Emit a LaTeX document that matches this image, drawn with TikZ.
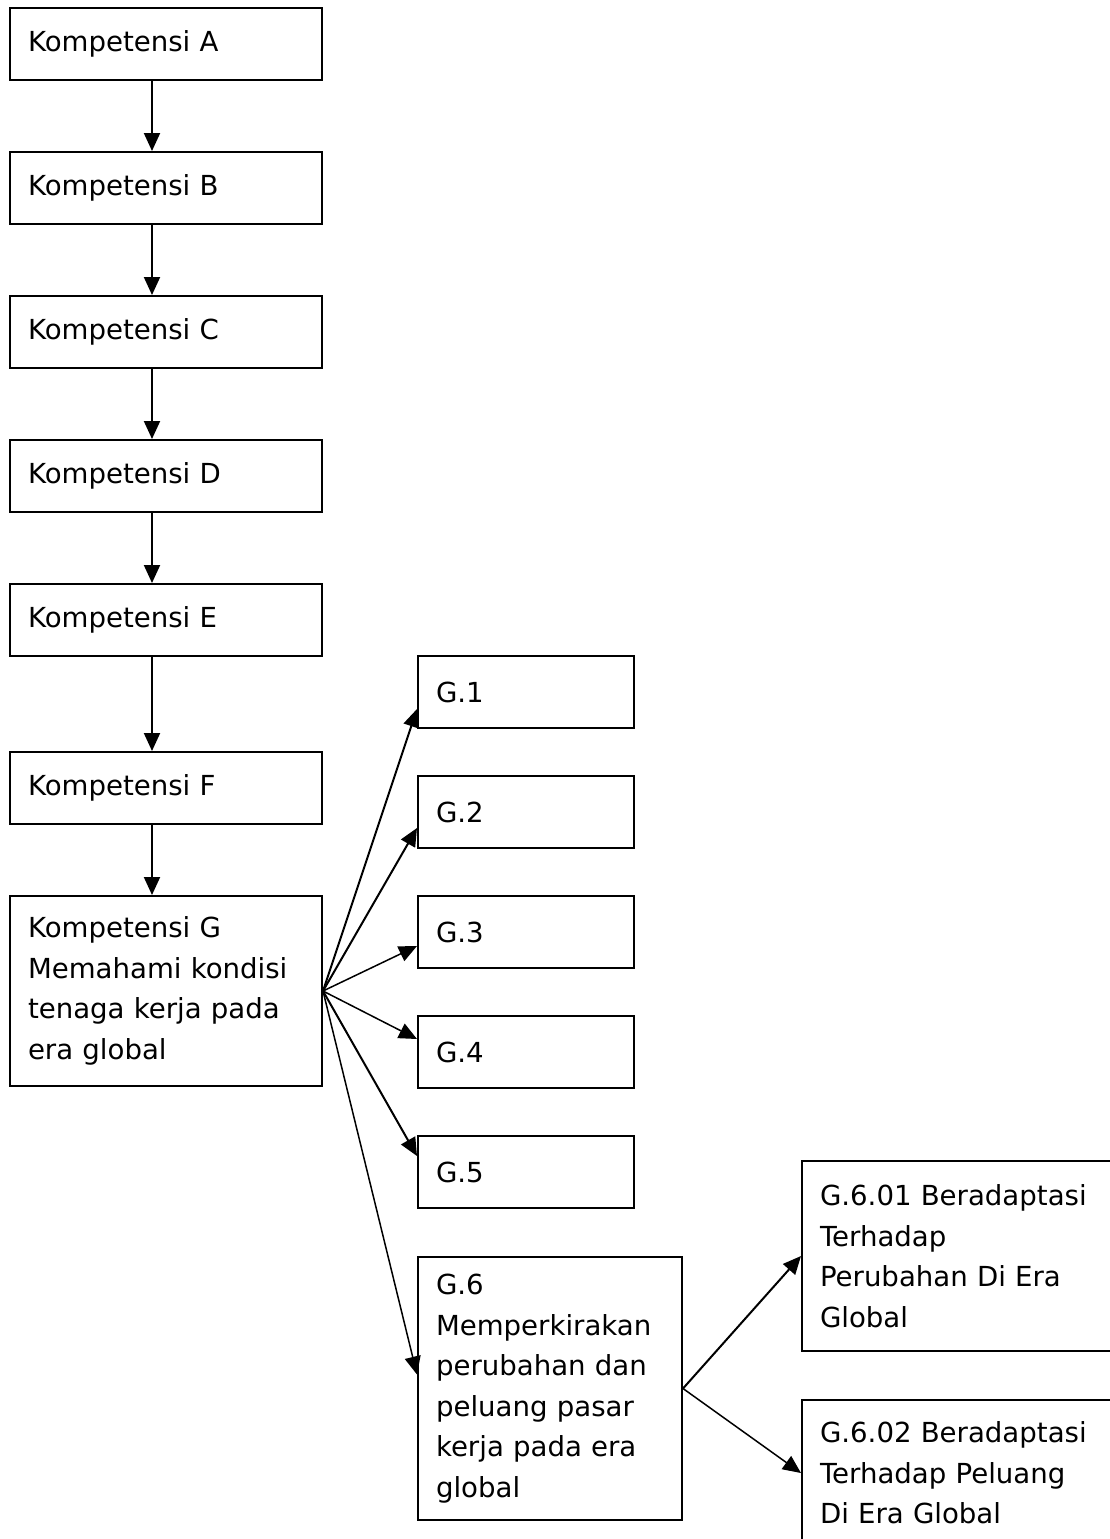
\documentclass[tikz,border=0pt]{standalone}
\usepackage{fontspec}
\setmainfont{DejaVu Sans}
\usetikzlibrary{arrows.meta, positioning}

\begin{document}
\begin{tikzpicture}[x=0.5pt, y=-0.5pt,
	kbox/.style={draw, line width=1pt, anchor=north west,
		inner xsep=9pt, inner ysep=0pt, align=left,
		font=\fontsize{13.8pt}{20.25pt}\selectfont},
	link/.style={line width=1pt, -{Triangle[length=9pt, width=8pt]}},
	thin link/.style={link, line width=0.75pt}]

\useasboundingbox (0,0) rectangle (1110,1539);

% Left column
\node[kbox, text width=138pt, minimum height=36pt] (a) at (9,7) {Kompetensi A};
\node[kbox, text width=138pt, minimum height=36pt,
		below=35pt of a] (b) {Kompetensi B};
\node[kbox, text width=138pt, minimum height=36pt,
		below=35pt of b] (c) {Kompetensi C};
\node[kbox, text width=138pt, minimum height=36pt,
		below=35pt of c] (d) {Kompetensi D};
\node[kbox, text width=138pt, minimum height=36pt,
		below=35pt of d] (e) {Kompetensi E};
\node[kbox, text width=138pt, minimum height=36pt,
		below=47pt of e] (f) {Kompetensi F};
\node[kbox, text width=138pt, minimum height=95pt,
		below=35pt of f] (g) {Kompetensi G\\Memahami kondisi\\tenaga kerja pada\\era global};

\coordinate (axis) at (152,0);
\foreach \u/\v in {a/b, b/c, c/d, d/e, e/f, f/g}
	\draw[link] (\u.south -| axis) -- (\v.north -| axis);

% Sub competencies of G
\node[kbox, text width=90pt, minimum height=36pt] (g1) at (417,655) {G.1};
\node[kbox, text width=90pt, minimum height=36pt,
		below=23pt of g1] (g2) {G.2};
\node[kbox, text width=90pt, minimum height=36pt,
		below=23pt of g2] (g3) {G.3};
\node[kbox, text width=90pt, minimum height=36pt,
		below=23pt of g3] (g4) {G.4};
\node[kbox, text width=90pt, minimum height=36pt,
		below=23pt of g4] (g5) {G.5};
\node[kbox, text width=114pt, minimum height=131.5pt] (g6) at (417,1256)
	{G.6\\Memperkirakan\\perubahan dan\\peluang pasar\\kerja pada era\\global};

\draw[link] (g.east) -- ([yshift=-8.5pt]g1.west);
\draw[link] (g.east) -- ([yshift=-8pt]g2.west);
\draw[thin link] (g.east) -- ([yshift=-7pt]g3.west);
\draw[thin link] (g.east) -- ([yshift=6.5pt]g4.west);
\draw[link] (g.east) -- ([yshift=8pt]g5.west);
\draw[thin link] (g.east) -- ([yshift=7pt]g6.west);

% Elements of G.6
\node[kbox, text width=141.5pt, minimum height=95pt] (g601) at (801,1160)
	{G.6.01 Beradaptasi\\Terhadap\\Perubahan Di Era\\Global};
\node[kbox, text width=141.5pt, minimum height=73pt] (g602) at (801,1399)
	{G.6.02 Beradaptasi\\Terhadap Peluang\\Di Era Global};

\draw[link] (g6.east) -- (g601.west);
\draw[thin link] (g6.east) -- (g602.west);

\end{tikzpicture}
\end{document}
